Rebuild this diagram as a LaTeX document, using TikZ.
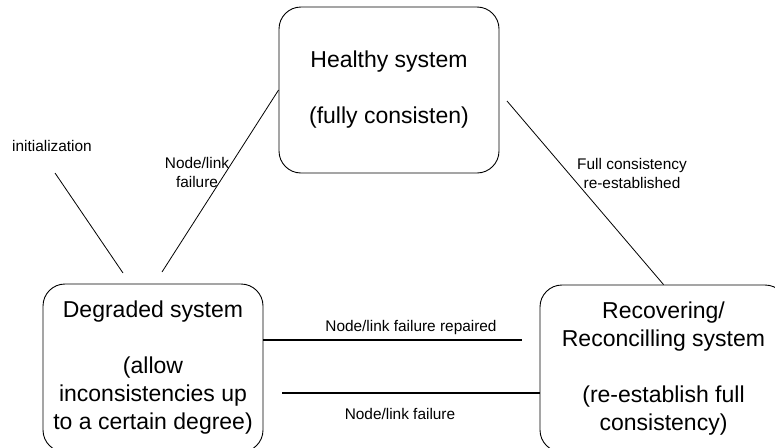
\documentclass[tikz,border=0pt]{standalone}
\usepackage{fontspec}
\setmainfont{Liberation Sans}
\begin{document}
\begin{tikzpicture}[x=1pt,y=-1pt,
  state/.style={draw=black, line width=0.9pt, rounded corners=22pt, inner sep=0pt,
    align=center, font=\fontsize{23}{28}\selectfont},
  link/.style={draw=black, line width=0.8pt},
  boldlink/.style={draw=black, line width=1.8pt},
  lbl/.style={inner sep=0pt, align=center, font=\fontsize{15.4}{19}\selectfont}]
\useasboundingbox (0,0) rectangle (775,447);
\clip (0,0) rectangle (775,447);

% states
\node[state, minimum width=220pt, minimum height=166pt] (H) at (389,90)
  {Healthy system\\[28pt](fully consisten)};
\node[state, minimum width=220pt, minimum height=168pt] (D) at (153,368)
  {Degraded system\\[28pt](allow\\inconsistencies up\\to a certain degree)};
\node[state, minimum width=247pt, minimum height=167pt] (R) at (663.5,368.5)
  {Recovering/\\Reconcilling system\\[28pt](re-establish full\\consistency)};

% free ends and heights of the connectors
\coordinate (i0) at (55,173);
\coordinate (i1) at (123,273);
\coordinate (f0) at (162,272);
\coordinate (c0) at (507,101);
\coordinate (y1) at (0,340);
\coordinate (p1) at (522,340);
\coordinate (y2) at (0,393);
\coordinate (p2) at (282,393);

% connectors
\draw[link] (i0) -- (i1);
\draw[link] (f0) -- (H.west);
\draw[link] (c0) -- (R.north);
\draw[boldlink] (D.east |- y1) -- (p1);
\draw[boldlink] (p2) -- (R.west |- y2);

% labels
\node[lbl, anchor=west] (li) at (12,146) {initialization};
\node[lbl] (lf) at (197,172) {Node/link\\failure};
\node[lbl] (lc) at (632,173) {Full consistency\\re-established};
\node[lbl] (lr) at (411,328) {Node/link failure repaired};
\node[lbl] (ll) at (400,414) {Node/link failure};
\end{tikzpicture}
\end{document}
